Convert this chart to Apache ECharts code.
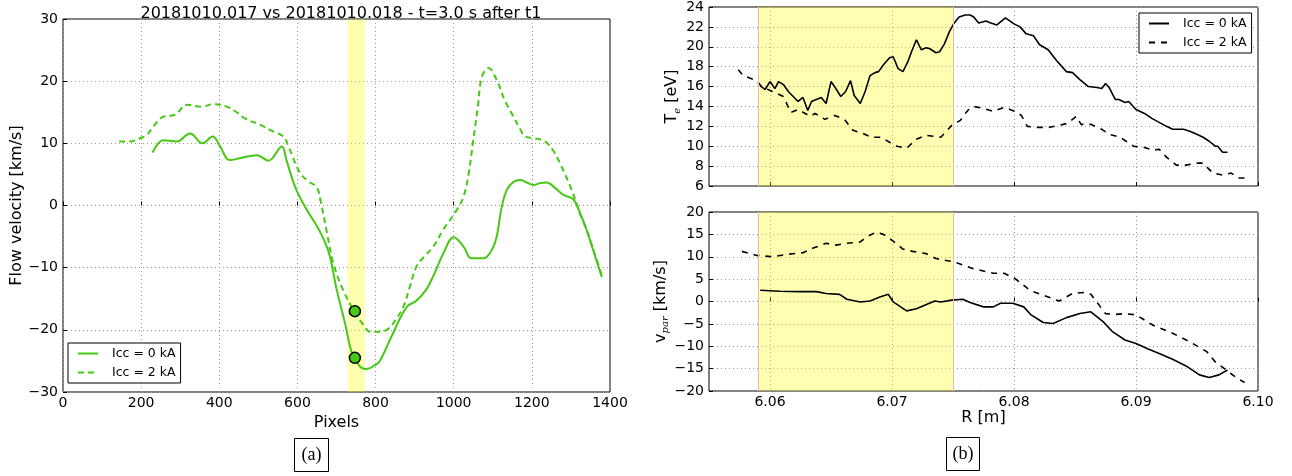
<!DOCTYPE html>
<html>
<head>
<meta charset="utf-8">
<script src="https://cdn.jsdelivr.net/npm/echarts@6/dist/echarts.min.js"></script>
<style>
  html, body { margin: 0; padding: 0; background: #fff; }
  #chart { width: 1292px; height: 476px; }
</style>
</head>
<body>
<div id="chart"></div>
<script>
// (a) flow velocity against pixel
const pixSolid = [229, 257, 291, 325, 357, 383, 402, 427, 453, 496, 526, 560, 572, 594, 624, 655, 680, 700, 722, 740, 760, 777, 798, 811, 845, 880, 905, 930, 948, 975, 1000, 1025, 1046, 1076, 1097, 1110, 1122, 1136, 1153, 1170, 1187, 1204, 1221, 1238, 1260, 1281, 1306, 1322, 1340, 1360, 1379]
const flowSolid = [8.5, 10.5, 10.3, 11.6, 10.0, 11.1, 9.5, 7.3, 7.6, 8.1, 7.2, 9.5, 7.3, 3.0, -0.7, -3.9, -7.5, -13.4, -19.0, -23.8, -25.9, -26.3, -25.7, -25.0, -20.5, -16.3, -15.3, -13.5, -11.3, -7.5, -5.1, -6.6, -8.5, -8.5, -7.2, -5.0, -0.5, 2.5, 3.8, 4.1, 3.7, 3.3, 3.6, 3.7, 2.8, 1.7, 1.0, -1.0, -3.9, -7.8, -11.5]
const pixDash = [144, 171, 200, 214, 231, 257, 287, 317, 355, 385, 419, 440, 466, 504, 535, 564, 577, 607, 630, 649, 660, 676, 692, 717, 746, 769, 786, 811, 833, 850, 871, 888, 905, 925, 948, 973, 1008, 1025, 1038, 1050, 1062, 1072, 1089, 1110, 1130, 1153, 1170, 1183, 1208, 1234, 1255, 1272, 1302, 1323, 1340, 1360, 1379]
const flowDash = [10.3, 10.3, 10.9, 11.3, 12.7, 14.3, 14.6, 16.2, 15.9, 16.3, 15.9, 15.2, 14.0, 13.0, 12.0, 11.1, 9.5, 5.2, 3.8, 3.0, 0.5, -4.5, -9.3, -13.6, -17.1, -19.2, -20.3, -20.3, -19.8, -18.5, -16.3, -13.0, -9.8, -8.2, -6.6, -3.9, -0.7, 1.4, 5.0, 10.5, 16.0, 20.7, 22.1, 20.2, 17.0, 14.3, 12.3, 11.1, 10.8, 10.3, 8.8, 6.8, 2.5, -1.3, -3.9, -7.6, -11.2]
const markPix = [747, 747]
const markFlow = [-17.0, -24.5]
const bandPix = [728, 773]

// (b) profiles against R
const rTeSolid = [6.0592, 6.0596, 6.0600, 6.0604, 6.0607, 6.0611, 6.0615, 6.0619, 6.0623, 6.0627, 6.0631, 6.0634, 6.0638, 6.0642, 6.0646, 6.0650, 6.0654, 6.0658, 6.0662, 6.0666, 6.0669, 6.0674, 6.0678, 6.0682, 6.0686, 6.0689, 6.0693, 6.0698, 6.0701, 6.0705, 6.0709, 6.0713, 6.0716, 6.0720, 6.0724, 6.0728, 6.0731, 6.0736, 6.0739, 6.0743, 6.0747, 6.0751, 6.0755, 6.0760, 6.0764, 6.0767, 6.0771, 6.0777, 6.0781, 6.0786, 6.0793, 6.0800, 6.0805, 6.0810, 6.0816, 6.0821, 6.0828, 6.0835, 6.0843, 6.0848, 6.0854, 6.0861, 6.0868, 6.0872, 6.0875, 6.0878, 6.0883, 6.0886, 6.0891, 6.0894, 6.0900, 6.0907, 6.0913, 6.0919, 6.0925, 6.0930, 6.0939, 6.0944, 6.0948, 6.0955, 6.0960, 6.0965, 6.0967, 6.0971, 6.0975]
const teSolid = [16.1, 15.7, 16.5, 15.8, 16.5, 16.2, 15.5, 15.0, 14.5, 14.9, 13.6, 14.5, 14.7, 14.9, 14.3, 16.5, 15.8, 15.0, 15.5, 16.6, 15.1, 14.3, 15.5, 17.1, 17.4, 17.5, 18.2, 18.9, 19.0, 17.8, 17.5, 18.5, 19.5, 20.7, 19.7, 19.9, 19.8, 19.4, 19.5, 20.3, 21.5, 22.4, 23.0, 23.2, 23.2, 23.0, 22.4, 22.6, 22.4, 22.2, 22.9, 22.3, 22.0, 21.3, 21.1, 20.2, 19.7, 18.6, 17.5, 17.4, 16.7, 16.0, 15.9, 15.8, 16.3, 15.9, 14.7, 14.7, 14.4, 14.5, 13.7, 13.3, 12.8, 12.4, 12.0, 11.7, 11.7, 11.5, 11.3, 10.9, 10.5, 10.0, 10.0, 9.4, 9.4]
const rTeDash = [6.0574, 6.0578, 6.0589, 6.0593, 6.0602, 6.0611, 6.0617, 6.0623, 6.0633, 6.0637, 6.0645, 6.0653, 6.0661, 6.0668, 6.0676, 6.0683, 6.0691, 6.0698, 6.0704, 6.0712, 6.0720, 6.0728, 6.0740, 6.0749, 6.0756, 6.0762, 6.0767, 6.0775, 6.0783, 6.0792, 6.0801, 6.0806, 6.0811, 6.0818, 6.0829, 6.0837, 6.0844, 6.0851, 6.0855, 6.0863, 6.0872, 6.0878, 6.0887, 6.0898, 6.0906, 6.0914, 6.0919, 6.0925, 6.0933, 6.0941, 6.0950, 6.0955, 6.0963, 6.0971, 6.0978, 6.0984, 6.0989]
const teDash = [17.7, 17.1, 16.6, 16.0, 15.5, 15.0, 13.4, 13.7, 13.0, 13.3, 12.7, 13.1, 12.7, 11.6, 11.3, 10.9, 10.9, 10.4, 10.0, 9.8, 10.7, 11.1, 10.9, 12.1, 12.6, 13.6, 14.0, 13.8, 13.5, 13.9, 13.5, 13.1, 12.0, 11.9, 11.9, 12.1, 12.3, 13.0, 12.2, 12.2, 11.7, 11.2, 10.9, 10.0, 9.9, 9.6, 9.7, 8.9, 8.1, 8.1, 8.3, 8.3, 7.3, 7.1, 7.3, 6.8, 6.8]
const rVSolid = [6.0592, 6.0608, 6.0624, 6.0638, 6.0646, 6.0657, 6.0663, 6.0674, 6.0682, 6.0690, 6.0697, 6.0701, 6.0712, 6.0720, 6.0735, 6.0740, 6.0749, 6.0758, 6.0764, 6.0775, 6.0783, 6.0789, 6.0799, 6.0808, 6.0814, 6.0824, 6.0832, 6.0843, 6.0854, 6.0863, 6.0873, 6.0881, 6.0891, 6.0900, 6.0910, 6.0919, 6.0930, 6.0941, 6.0952, 6.0960, 6.0968, 6.0975]
const vSolid = [2.5, 2.3, 2.2, 2.2, 1.8, 1.6, 0.5, -0.1, 0.1, 1.0, 1.6, -0.1, -2.1, -1.6, 0.1, -0.1, 0.3, 0.5, -0.2, -1.2, -1.2, -0.4, -0.4, -1.2, -3.0, -4.7, -4.9, -3.6, -2.7, -2.3, -4.5, -6.8, -8.6, -9.4, -10.6, -11.6, -12.9, -14.4, -16.4, -17.0, -16.4, -15.3]
const rVDash = [6.0577, 6.0589, 6.0602, 6.0613, 6.0627, 6.0636, 6.0646, 6.0654, 6.0663, 6.0674, 6.0679, 6.0687, 6.0693, 6.0701, 6.0709, 6.0717, 6.0728, 6.0736, 6.0750, 6.0760, 6.0766, 6.0783, 6.0792, 6.0801, 6.0813, 6.0824, 6.0837, 6.0848, 6.0857, 6.0863, 6.0875, 6.0883, 6.0891, 6.0900, 6.0914, 6.0930, 6.0944, 6.0958, 6.0965, 6.0974, 6.0982, 6.0989]
const vDash = [11.2, 10.3, 10.0, 10.5, 10.9, 12.0, 13.0, 12.6, 13.0, 13.3, 14.4, 15.5, 15.0, 13.5, 11.7, 11.2, 10.7, 9.6, 8.9, 8.0, 7.4, 6.3, 6.3, 5.1, 2.5, 1.4, 0.1, 1.8, 2.0, 1.6, -2.7, -2.9, -2.7, -3.0, -5.3, -7.1, -9.0, -11.2, -13.5, -15.3, -17.0, -18.1]
const bandR = [6.059, 6.075]
const rTicks = [6.06, 6.07, 6.08, 6.09, 6.10]

const green = '#48c816'
const font = 'DejaVu Sans'
const zip = (xs, ys) => xs.map((x, i) => [x, ys[i]])
const minus = v => String(v).replace('-', '\u2212')

const gridLine = { show: true, lineStyle: { color: '#9a9a9a', type: [1, 3], width: 1 } }
const tickIn = { show: true, inside: true, length: 4, lineStyle: { color: '#000' } }
const labelStyle = { color: '#000', fontFamily: font, fontSize: 14 }
const nameStyle = { color: '#000', fontFamily: font, fontSize: 16 }
const subName = {
  rich: {
    a: { color: '#000', fontFamily: font, fontSize: 16, lineHeight: 20, verticalAlign: 'middle' },
    s: { color: '#000', fontFamily: 'DejaVu Serif', fontStyle: 'italic', fontSize: 10, lineHeight: 20, verticalAlign: 'bottom' }
  }
}
// yellow band with faint red edges
const band = (a, b, edge) => ({
  markArea: {
    silent: true,
    itemStyle: { color: 'rgba(255,255,0,0.3)' },
    data: [[{ xAxis: a }, { xAxis: b }]]
  },
  markLine: edge ? {
    silent: true, symbol: 'none', precision: 4, label: { show: false },
    lineStyle: { color: '#f5b4b4', type: 'solid', width: 1 },
    data: [{ xAxis: a }, { xAxis: b }]
  } : undefined
})
const legendBox = {
  orient: 'vertical',
  itemWidth: 20, itemHeight: 14, itemGap: 6,
  padding: [4, 5, 4, 9],
  borderColor: '#000', borderWidth: 1, backgroundColor: '#fff',
  itemStyle: { opacity: 0 },
  textStyle: { color: '#000', fontFamily: font, fontSize: 12.5, padding: [0, 0, 0, 9] },
  selectedMode: false
}

let myChart = echarts.init(document.getElementById('chart'))
let option = {
  animation: false,
  backgroundColor: '#fff',
  title: {
    text: '20181010.017 vs 20181010.018 - t=3.0 s after t1',
    left: 336, top: 1, textAlign: 'center',
    textStyle: { color: '#000', fontFamily: font, fontSize: 16, fontWeight: 'normal' }
  },
  grid: [
    { left: 63, top: 19, width: 547, height: 373, show: true, borderColor: '#000', borderWidth: 1 },
    { left: 709, top: 7, width: 549, height: 179, show: true, borderColor: '#000', borderWidth: 1 },
    { left: 709, top: 212, width: 549, height: 179, show: true, borderColor: '#000', borderWidth: 1 }
  ],
  legend: [
    Object.assign({ data: ['Icc = 0 kA', 'Icc = 2 kA'], left: 68, top: 343 }, legendBox),
    Object.assign({ data: ['Icc = 0 kA ', 'Icc = 2 kA '], formatter: n => n.trim(), left: 1139, top: 13, itemWidth: 19 }, legendBox)
  ],
  xAxis: [
    {
      gridIndex: 0, type: 'value', min: 0, max: 1400, interval: 200,
      name: 'Pixels', nameLocation: 'middle', nameGap: 18, nameTextStyle: nameStyle,
      axisLine: { show: false }, axisTick: tickIn,
      axisLabel: Object.assign({ margin: 4, formatter: v => String(v) }, labelStyle),
      splitLine: gridLine
    },
    {
      gridIndex: 1, type: 'value', min: 6.055, max: 6.10,
      axisLine: { show: false },
      axisTick: Object.assign({ customValues: rTicks }, tickIn),
      axisLabel: { show: false, customValues: rTicks },
      splitLine: gridLine
    },
    {
      gridIndex: 2, type: 'value', min: 6.055, max: 6.10,
      name: 'R [m]', nameLocation: 'middle', nameGap: 17, nameTextStyle: nameStyle,
      axisLine: { show: false },
      axisTick: Object.assign({ customValues: rTicks }, tickIn),
      axisLabel: Object.assign({ customValues: rTicks, margin: 4, formatter: v => v.toFixed(2) }, labelStyle),
      splitLine: gridLine
    }
  ],
  yAxis: [
    {
      gridIndex: 0, type: 'value', min: -30, max: 30, interval: 10,
      name: 'Flow velocity [km/s]', nameLocation: 'middle', nameGap: 38, nameTextStyle: nameStyle,
      axisLine: { show: false }, axisTick: tickIn,
      axisLabel: Object.assign({ margin: 5, formatter: minus }, labelStyle),
      splitLine: gridLine
    },
    {
      gridIndex: 1, type: 'value', min: 6, max: 24, interval: 2,
      name: '{a|T}{s|e}{a| [eV]}', nameLocation: 'middle', nameGap: 24, nameTextStyle: subName,
      axisLine: { show: false }, axisTick: tickIn,
      axisLabel: Object.assign({ margin: 5 }, labelStyle),
      splitLine: gridLine
    },
    {
      gridIndex: 2, type: 'value', min: -20, max: 20, interval: 5,
      name: '{a|v}{s|par}{a| [km/s]}', nameLocation: 'middle', nameGap: 38, nameTextStyle: subName,
      axisLine: { show: false }, axisTick: tickIn,
      axisLabel: Object.assign({ margin: 5, formatter: minus }, labelStyle),
      splitLine: gridLine
    }
  ],
  series: [
    Object.assign({
      name: 'Icc = 0 kA', type: 'line', xAxisIndex: 0, yAxisIndex: 0,
      data: zip(pixSolid, flowSolid), smooth: 0.4, symbol: 'none',
      color: green, lineStyle: { color: green, width: 2 }
    }, band(bandPix[0], bandPix[1], false)),
    {
      name: 'Icc = 2 kA', type: 'line', xAxisIndex: 0, yAxisIndex: 0,
      data: zip(pixDash, flowDash), smooth: 0.4, symbol: 'none',
      color: green, lineStyle: { color: green, width: 2, type: [6, 4] }
    },
    {
      name: 'marks', type: 'scatter', xAxisIndex: 0, yAxisIndex: 0, z: 5,
      data: zip(markPix, markFlow), symbolSize: 11,
      itemStyle: { color: green, borderColor: '#000', borderWidth: 1.5, opacity: 1 }
    },
    Object.assign({
      name: 'Icc = 0 kA ', type: 'line', xAxisIndex: 1, yAxisIndex: 1,
      data: zip(rTeSolid, teSolid), symbol: 'none',
      color: '#000', lineStyle: { color: '#000', width: 1.6 }
    }, band(bandR[0], bandR[1], true)),
    {
      name: 'Icc = 2 kA ', type: 'line', xAxisIndex: 1, yAxisIndex: 1,
      data: zip(rTeDash, teDash), symbol: 'none',
      color: '#000', lineStyle: { color: '#000', width: 1.6, type: [6, 6] }
    },
    Object.assign({
      name: 'Icc = 0 kA ', type: 'line', xAxisIndex: 2, yAxisIndex: 2,
      data: zip(rVSolid, vSolid), symbol: 'none',
      color: '#000', lineStyle: { color: '#000', width: 1.6 }
    }, band(bandR[0], bandR[1], true)),
    {
      name: 'Icc = 2 kA ', type: 'line', xAxisIndex: 2, yAxisIndex: 2,
      data: zip(rVDash, vDash), symbol: 'none',
      color: '#000', lineStyle: { color: '#000', width: 1.6, type: [6, 6] }
    }
  ],
  graphic: [
    { type: 'rect', shape: { x: 294.5, y: 438.5, width: 34, height: 33 }, style: { fill: '#fff', stroke: '#000', lineWidth: 1 } },
    { type: 'text', x: 311.5, y: 455, style: { text: '(a)', fill: '#000', font: '18px "Liberation Serif"', align: 'center', verticalAlign: 'middle' } },
    { type: 'rect', shape: { x: 946.5, y: 437.5, width: 33, height: 33 }, style: { fill: '#fff', stroke: '#000', lineWidth: 1 } },
    { type: 'text', x: 963, y: 454, style: { text: '(b)', fill: '#000', font: '18px "Liberation Serif"', align: 'center', verticalAlign: 'middle' } }
  ]
}
myChart.clear()
myChart.setOption(option)
window.onresize = function () {
  myChart.resize()
}
</script>
</body>
</html>
